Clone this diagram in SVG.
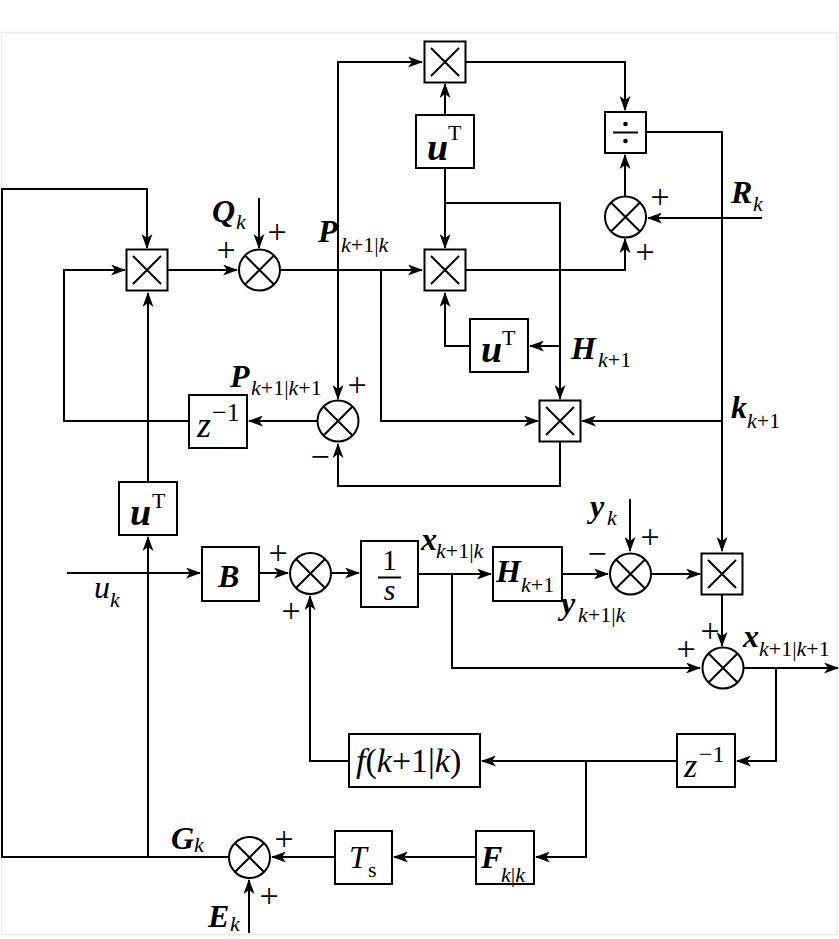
<svg xmlns="http://www.w3.org/2000/svg" width="839" height="939" viewBox="0 0 839 939" font-family="Liberation Serif, Times New Roman, serif">
<style>
.ln{stroke:#000;stroke-width:2;fill:none}
.bx{fill:#fff;stroke:#000;stroke-width:2}
.x{stroke:#000;stroke-width:2}
text{font-family:"Liberation Serif","Times New Roman",serif;fill:#000}
.v{font-size:32px;font-weight:bold;font-style:italic}
.u{font-size:38px;font-weight:bold;font-style:italic}
.sb{font-size:22px}
.i{font-style:italic}
.r{font-size:22px}
.pl{font-size:34px;text-anchor:middle}
</style>
<defs>
<marker id="a" markerWidth="15" markerHeight="11" refX="14" refY="5.5" orient="auto" markerUnits="userSpaceOnUse"><path d="M0,0 L15,5.5 L0,11 L4,5.5 z" fill="#000"/></marker>
<g id="mul"><rect class="bx" x="-20.5" y="-20.5" width="41" height="41"/><path class="x" d="M-14,-14 L14,14 M14,-14 L-14,14"/></g>
<g id="sum"><circle class="bx" r="20.5"/><path class="x" d="M-14.5,-14.5 L14.5,14.5 M14.5,-14.5 L-14.5,14.5"/></g>
</defs>
<rect width="839" height="939" fill="#fff"/>
<rect x="1.5" y="32.5" width="835" height="902" fill="none" stroke="#ececec" stroke-width="1.5"/>
<g id="connectors">
<path class="ln" d="M338,240 L338,62 L422,62" marker-end="url(#a)"/>
<path class="ln" d="M338,240 L338,399" marker-end="url(#a)"/>
<path class="ln" d="M466,62 L625,62 L625,110" marker-end="url(#a)"/>
<path class="ln" d="M445,115 L445,84" marker-end="url(#a)"/>
<path class="ln" d="M445,168 L445,248" marker-end="url(#a)"/>
<path class="ln" d="M445,203 L560,203 L560,399" marker-end="url(#a)"/>
<path class="ln" d="M646,132 L722,132 L722,551" marker-end="url(#a)"/>
<path class="ln" d="M762,218 L648,218" marker-end="url(#a)"/>
<path class="ln" d="M625,196 L625,155" marker-end="url(#a)"/>
<path class="ln" d="M466,270 L625,270 L625,239" marker-end="url(#a)"/>
<path class="ln" d="M560,346 L530,346" marker-end="url(#a)"/>
<path class="ln" d="M470,346 L445,346 L445,293" marker-end="url(#a)"/>
<path class="ln" d="M722,421 L582,421" marker-end="url(#a)"/>
<path class="ln" d="M229,857 L2,857 L2,189 L147,189 L147,248" marker-end="url(#a)"/>
<path class="ln" d="M148,857 L148,537" marker-end="url(#a)"/>
<path class="ln" d="M148,482 L148,293" marker-end="url(#a)"/>
<path class="ln" d="M189,421 L64,421 L64,270 L125,270" marker-end="url(#a)"/>
<path class="ln" d="M168,270 L237,270" marker-end="url(#a)"/>
<path class="ln" d="M259,198 L259,248" marker-end="url(#a)"/>
<path class="ln" d="M280,270 L422,270" marker-end="url(#a)"/>
<path class="ln" d="M381,270 L381,421 L538,421" marker-end="url(#a)"/>
<path class="ln" d="M318,421 L249,421" marker-end="url(#a)"/>
<path class="ln" d="M560,442 L560,486 L338,486 L338,444" marker-end="url(#a)"/>
<path class="ln" d="M67,573 L200,573" marker-end="url(#a)"/>
<path class="ln" d="M259,573 L288,573" marker-end="url(#a)"/>
<path class="ln" d="M331,573 L359,573" marker-end="url(#a)"/>
<path class="ln" d="M418,574 L491,574" marker-end="url(#a)"/>
<path class="ln" d="M452,574 L452,668 L700,668" marker-end="url(#a)"/>
<path class="ln" d="M562,574 L608,574" marker-end="url(#a)"/>
<path class="ln" d="M630,499 L630,551" marker-end="url(#a)"/>
<path class="ln" d="M651,574 L700,574" marker-end="url(#a)"/>
<path class="ln" d="M722,594 L722,646" marker-end="url(#a)"/>
<path class="ln" d="M743,668 L838,668" marker-end="url(#a)"/>
<path class="ln" d="M776,668 L776,761 L737,761" marker-end="url(#a)"/>
<path class="ln" d="M677,761 L482,761" marker-end="url(#a)"/>
<path class="ln" d="M349,761 L310,761 L310,596" marker-end="url(#a)"/>
<path class="ln" d="M586,761 L586,857 L536,857" marker-end="url(#a)"/>
<path class="ln" d="M476,857 L394,857" marker-end="url(#a)"/>
<path class="ln" d="M335,857 L272,857" marker-end="url(#a)"/>
<path class="ln" d="M249,933 L249,880" marker-end="url(#a)"/>
</g>
<g id="mul-top"><use href="#mul" x="445" y="62"/></g>
<g id="mul-mid"><use href="#mul" x="445" y="270"/></g>
<g id="mul-left"><use href="#mul" x="147" y="270"/></g>
<g id="mul-low"><use href="#mul" x="560" y="421"/></g>
<g id="mul-right"><use href="#mul" x="722" y="574"/></g>
<g id="div"><rect class="bx" x="605" y="112" width="41" height="41"/><path class="x" d="M613,132.5 L638,132.5"/><circle cx="625.5" cy="124" r="2.3"/><circle cx="625.5" cy="141" r="2.3"/></g>
<g id="sum-q"><use href="#sum" x="259.5" y="270"/></g>
<g id="sum-r"><use href="#sum" x="625.5" y="217"/></g>
<g id="sum-p"><use href="#sum" x="338" y="421"/></g>
<g id="sum-b"><use href="#sum" x="310.5" y="573.5"/></g>
<g id="sum-y"><use href="#sum" x="630.5" y="574"/></g>
<g id="sum-x"><use href="#sum" x="723" y="668"/></g>
<g id="sum-g"><use href="#sum" x="249.5" y="857.5"/></g>
<g id="ut-top"><rect class="bx" x="416" y="115" width="58" height="53"/><text class="u" x="427" y="160">u</text><text class="r" x="448" y="140">T</text></g>
<g id="ut-mid"><rect class="bx" x="470" y="319" width="58" height="53"/><text class="u" x="481" y="362">u</text><text class="r" x="502" y="345">T</text></g>
<g id="ut-left"><rect class="bx" x="119" y="482" width="58" height="53"/><text class="u" x="130" y="525">u</text><text class="r" x="152" y="508">T</text></g>
<g id="z-up"><rect class="bx" x="189" y="395" width="58" height="53"/><text class="i" x="197" y="437" font-size="36">z</text><text x="212" y="421" font-size="26">−1</text></g>
<g id="z-low"><rect class="bx" x="677" y="734" width="58" height="53"/><text class="i" x="684" y="777" font-size="34">z</text><text x="699" y="762" font-size="24">−1</text></g>
<g id="b"><rect class="bx" x="202" y="547" width="57" height="54"/><text class="v" x="218" y="587" font-size="32">B</text></g>
<g id="integ"><rect class="bx" x="361" y="541" width="57" height="66"/><text x="389.5" y="570" font-size="30" text-anchor="middle">1</text><path class="x" d="M378,577.5 L401,577.5"/><text class="i" x="389.5" y="600" font-size="30" text-anchor="middle">s</text></g>
<g id="h"><rect class="bx" x="493" y="547" width="69" height="54"/><text class="v" x="496" y="582">H</text><text class="sb" x="521" y="592"><tspan class="i">k</tspan>+1</text></g>
<g id="f"><rect class="bx" x="349" y="734" width="131" height="53"/><text x="356" y="772" font-size="34"><tspan class="i">f</tspan>(<tspan class="i">k</tspan>+1|<tspan class="i">k</tspan>)</text></g>
<g id="ts"><rect class="bx" x="335" y="831" width="57" height="53"/><text class="i" x="349" y="868" font-size="32">T</text><text x="368" y="877" font-size="22">s</text></g>
<g id="fk"><rect class="bx" x="476" y="831" width="58" height="53"/><text class="v" x="481" y="868" font-size="32">F</text><text class="sb" x="501" y="882"><tspan class="i">k</tspan>|<tspan class="i">k</tspan></text></g>
<g id="labels">
<text class="v" x="212" y="222">Q</text><text class="sb i" x="236" y="229">k</text>
<text class="v" x="318" y="242">P</text><text class="sb" x="341" y="252"><tspan class="i">k</tspan>+1|<tspan class="i">k</tspan></text>
<text class="v" x="230" y="387">P</text><text class="sb" x="251" y="395"><tspan class="i">k</tspan>+1|<tspan class="i">k</tspan>+1</text>
<text class="v" x="731" y="203">R</text><text class="sb i" x="753" y="211">k</text>
<text class="v" x="571" y="359">H</text><text class="sb" x="598" y="367"><tspan class="i">k</tspan>+1</text>
<text class="v" x="731" y="418">k</text><text class="sb" x="747" y="428"><tspan class="i">k</tspan>+1</text>
<text class="v" x="421" y="550">x</text><text class="sb" x="436" y="558"><tspan class="i">k</tspan>+1|<tspan class="i">k</tspan></text>
<text class="v" x="590" y="517">y</text><text class="sb i" x="607" y="525">k</text>
<text class="v" x="561" y="614">y</text><text class="sb" x="578" y="622"><tspan class="i">k</tspan>+1|<tspan class="i">k</tspan></text>
<text class="v" x="743" y="647">x</text><text class="sb" x="759" y="656"><tspan class="i">k</tspan>+1|<tspan class="i">k</tspan>+1</text>
<text class="i" x="94" y="598" font-size="32">u</text><text class="sb i" x="110" y="607">k</text>
<text class="v" x="171" y="849">G</text><text class="sb i" x="194" y="852">k</text>
<text class="v" x="208" y="927">E</text><text class="sb i" x="230" y="931">k</text>
</g>
<g id="signs">
<text class="pl" x="277" y="243">+</text>
<text class="pl" x="226" y="261">+</text>
<text class="pl" x="660" y="208">+</text>
<text class="pl" x="645" y="263">+</text>
<text class="pl" x="357" y="396">+</text>
<text class="pl" x="320" y="468">−</text>
<text class="pl" x="278" y="564">+</text>
<text class="pl" x="291" y="622">+</text>
<text class="pl" x="597" y="565">−</text>
<text class="pl" x="650" y="548">+</text>
<text class="pl" x="710" y="642">+</text>
<text class="pl" x="686" y="660">+</text>
<text class="pl" x="284" y="850">+</text>
<text class="pl" x="269" y="907">+</text>
</g>
</svg>
